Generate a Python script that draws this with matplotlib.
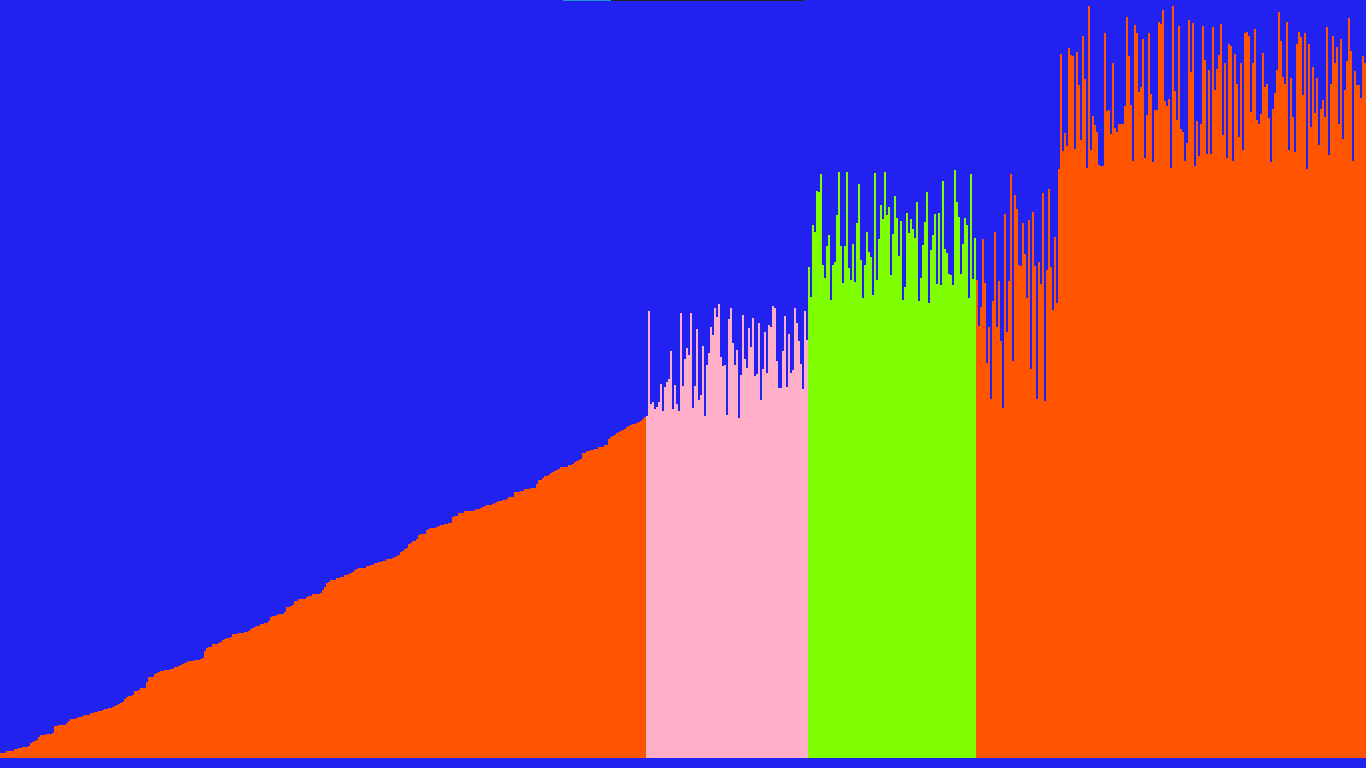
import numpy as np
import matplotlib
matplotlib.use("Agg")
import matplotlib.pyplot as plt

# bar heights (pixel units, axis goes 0..758)
sorted_part = [5,5,5,7,7,7,7,9,9,10,10,11,11,11,12,15,16,17,18,21,
               23,23,23,24,24,24,25,32,32,33,33,33,33,35,37,39,39,39,40,41,
               41,42,43,43,43,45,45,46,46,47,47,48,49,49,50,50,51,52,53,54,
               55,56,59,61,62,62,63,67,67,68,70,70,70,76,81,81,81,84,85,86,
               87,87,88,88,88,89,89,91,91,92,93,94,95,96,97,97,97,98,98,98,
               99,100,107,110,111,111,114,114,114,115,116,118,119,120,120,121,124,124,124,125,
               125,125,126,126,127,129,130,131,132,132,134,134,135,135,137,141,142,142,143,144,
               144,144,146,151,151,152,153,157,157,159,159,159,159,161,162,162,164,164,164,164,
               165,168,171,175,176,178,178,178,180,180,181,181,183,183,184,185,186,188,189,190,
               190,190,190,192,192,193,193,195,195,196,196,197,197,199,199,199,200,201,202,203,
               206,207,209,210,214,215,217,217,219,223,224,224,224,228,229,230,230,230,231,232,
               233,233,234,234,235,235,241,242,242,245,245,245,247,247,247,247,247,248,249,249,
               250,251,252,253,253,253,254,255,256,257,257,258,258,259,261,261,261,266,266,266,
               267,267,269,269,269,270,270,270,274,278,278,280,282,282,283,285,286,287,288,289,
               291,291,291,291,293,293,294,296,297,298,299,305,305,307,307,308,308,309,309,311,
               311,311,313,313,319,321,322,323,325,326,327,328,329,331,332,333,334,334,335,336,
               337,339,341]

pink_part = [342,447,354,356,349,351,356,374,347,371,376,379,407,349,373,354,347,445,372,399,
             410,403,445,350,372,429,358,363,412,342,393,405,431,423,450,441,454,401,392,393,
             343,439,450,415,393,408,340,383,443,399,390,430,411,440,382,384,435,358,389,426,
             385,433,431,452,450,397,370,370,407,442,371,424,385,388,450,435,417,394,369,447,
             418]

green_part = [491,461,533,526,567,566,584,493,480,512,523,458,493,496,543,586,512,475,512,586,
              490,478,514,476,535,574,498,460,493,526,506,501,463,585,478,519,553,539,586,543,
              551,483,524,562,540,502,537,458,471,545,525,539,529,520,556,457,480,513,536,566,
              455,508,523,544,474,545,473,577,509,505,484,483,473,588,556,541,484,514,540,533,
              460,584,479,520]

orange_part = [478,432,451,519,475,395,431,359,457,526,431,477,417,350,544,426,477,584,397,563,
               549,493,492,535,504,460,538,389,546,492,359,496,474,565,357,488,569,491,448,521,
               455,
               589,704,607,625,612,710,703,702,609,706,673,618,722,679,590,752,608,642,633,626,
               593,592,592,725,647,648,624,695,630,626,634,634,634,652,741,702,653,597,733,725,
               666,671,719,600,643,725,664,596,648,648,736,734,748,657,652,659,590,752,667,638,
               732,629,626,597,615,738,686,735,592,637,602,634,732,698,604,688,604,731,668,689,
               703,734,623,695,600,714,712,597,704,674,621,695,608,725,726,722,646,695,729,638,
               634,644,705,671,674,640,596,649,665,688,746,717,681,674,736,608,680,641,606,714,
               726,721,663,725,589,714,631,691,645,680,613,649,658,641,731,603,674,722,695,711,
               634,719,619,668,697,740,707,597,687,673,673,660,702,695]

progress = 0.2

blue = "#2121F0"
orange = "#FF5500"
pink = "#FFAEC8"
green = "#7FFF00"

heights = sorted_part + pink_part + green_part + orange_part
colors = ([orange] * len(sorted_part) + [pink] * len(pink_part)
          + [green] * len(green_part) + [orange] * len(orange_part))
n = len(heights)
x = np.arange(n)

fig = plt.figure(figsize=(13.66, 7.68), dpi=100, facecolor=blue)
ax = fig.add_axes([0, 10/768, 1, 758/768])
ax.set_facecolor(blue)
ax.bar(x, heights, width=1.0, align="edge", color=colors, linewidth=0, antialiased=False)
ax.set_xlim(0, n)
ax.set_ylim(0, 758)
ax.axis("off")

# small progress strip at the top
ax2 = fig.add_axes([563/1366, 1 - 1.2/768, 240/1366, 1.2/768])
ax2.barh([0], [1.0], height=1.0, color="#222222", linewidth=0)
ax2.barh([0], [progress], height=1.0, color="#1E96D2", linewidth=0)
ax2.set_xlim(0, 1)
ax2.set_ylim(-0.5, 0.5)
ax2.axis("off")

fig.savefig("out.png", dpi=100, facecolor=blue)
